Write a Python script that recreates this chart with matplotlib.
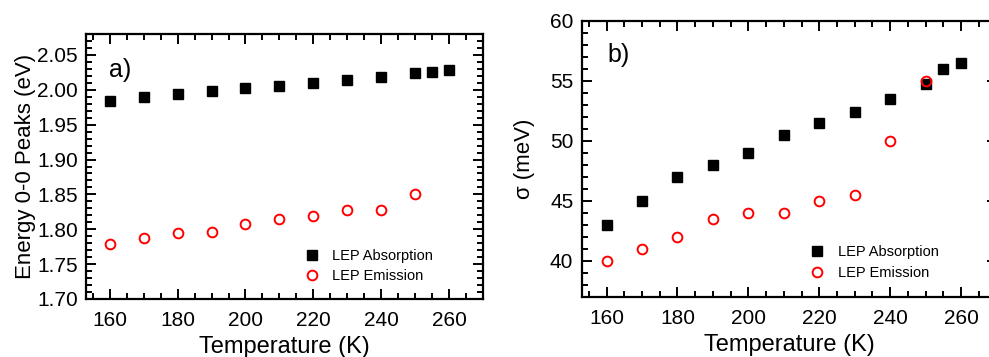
import matplotlib
matplotlib.use('Agg')
import matplotlib.pyplot as plt
from matplotlib.ticker import MultipleLocator

# data
temp_abs = [160, 170, 180, 190, 200, 210, 220, 230, 240, 250, 255, 260]
temp_em = [160, 170, 180, 190, 200, 210, 220, 230, 240, 250]

peak_abs = [1.984, 1.990, 1.994, 1.998, 2.002, 2.006, 2.010, 2.014, 2.018, 2.024, 2.026, 2.029]
peak_em = [1.779, 1.787, 1.794, 1.796, 1.807, 1.814, 1.819, 1.827, 1.828, 1.850]

sigma_abs = [43.0, 45.0, 47.0, 48.0, 49.0, 50.5, 51.5, 52.4, 53.5, 54.7, 56.0, 56.5]
sigma_em = [40.0, 41.0, 42.0, 43.5, 44.0, 44.0, 45.0, 45.5, 50.0, 55.0]

plt.rcParams['font.family'] = ['Liberation Sans', 'DejaVu Sans']

W, H = 989, 357
fig = plt.figure(figsize=(W / 100, H / 100), dpi=100)


def px_axes(left, top, right, bottom):
    return fig.add_axes([left / W, 1 - bottom / H, (right - left) / W, (bottom - top) / H])


def style(ax):
    for s in ax.spines.values():
        s.set_linewidth(1.6)
    ax.tick_params(which='both', direction='in', top=True, right=True, width=1.4, labelsize=15)
    ax.tick_params(axis='x', which='major', pad=9)
    ax.tick_params(axis='y', which='major', pad=6)
    ax.tick_params(which='major', length=7)
    ax.tick_params(which='minor', length=4)
    ax.xaxis.set_major_locator(MultipleLocator(20))
    ax.xaxis.set_minor_locator(MultipleLocator(5))
    ax.set_xlim(153, 270)
    ax.set_xlabel('Temperature (K)', fontsize=17, labelpad=4)


# panel a
ax1 = px_axes(86, 34, 483, 299)
ax1.plot(temp_abs, peak_abs, 's', color='black', markersize=7.5, label='LEP Absorption')
ax1.plot(temp_em, peak_em, 'o', mfc='none', mec='red', mew=1.4, markersize=7, label='LEP Emission')
style(ax1)
ax1.set_ylim(1.70, 2.08)
ax1.yaxis.set_major_locator(MultipleLocator(0.05))
ax1.yaxis.set_minor_locator(MultipleLocator(0.01))
ax1.yaxis.set_major_formatter(lambda v, p: f'{v:.2f}')
ax1.set_ylabel('Energy 0-0 Peaks (eV)', fontsize=16, labelpad=1)
ax1.text(0.058, 0.864, 'a)', transform=ax1.transAxes, fontsize=18, va='center')
ax1.legend(loc='lower left', bbox_to_anchor=(0.507, 0.02), frameon=False, fontsize=10.5,
           handletextpad=0.4, labelspacing=0.45, borderpad=0.2)

# panel b
ax2 = px_axes(581.7, 20.7, 996.5, 297)
ax2.plot(temp_abs, sigma_abs, 's', color='black', markersize=7.5, label='LEP Absorption')
ax2.plot(temp_em, sigma_em, 'o', mfc='none', mec='red', mew=1.4, markersize=7, label='LEP Emission')
style(ax2)
ax2.set_ylim(37, 60)
ax2.yaxis.set_major_locator(MultipleLocator(5))
ax2.yaxis.set_minor_locator(MultipleLocator(1))
ax2.set_ylabel('σ (meV)', fontsize=16, labelpad=11)
ax2.text(0.061, 0.876, 'b)', transform=ax2.transAxes, fontsize=18, va='center')
ax2.legend(loc='lower left', bbox_to_anchor=(0.508, 0.025), frameon=False, fontsize=10.5,
           handletextpad=0.4, labelspacing=0.45, borderpad=0.2)

fig.savefig('out.png', dpi=100)
